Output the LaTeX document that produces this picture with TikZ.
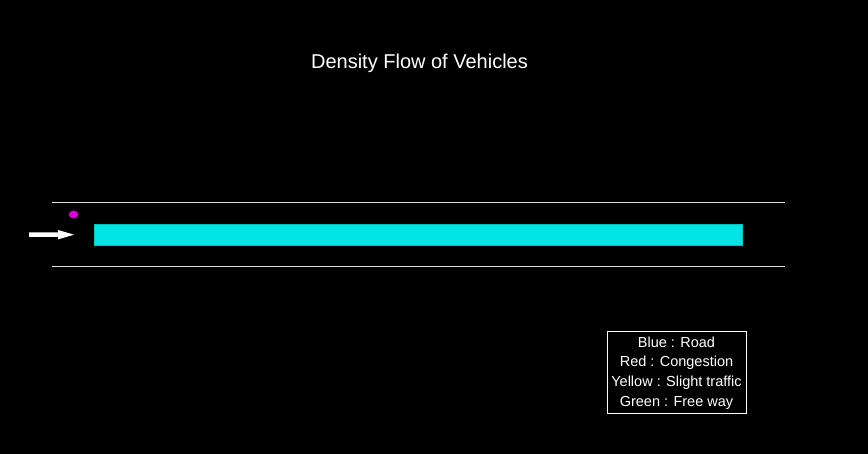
\documentclass[tikz,border=0pt]{standalone}
\usepackage{fontspec}
\setmainfont{Liberation Sans}
\usetikzlibrary{shapes.geometric}
\definecolor{roadcyan}{RGB}{0,228,228}
\definecolor{roadline}{RGB}{225,225,225}
\definecolor{vmag}{RGB}{210,0,210}
\tikzset{
  roadedge/.style={draw=roadline, line width=1.8pt},
  roadbar/.style={fill=roadcyan, draw=roadcyan!85!black, line width=0.6pt, inner sep=0pt, minimum width=648pt, minimum height=21pt},
  legendbox/.style={draw=white, line width=1pt, text=white, font=\fontsize{14.5}{19.6}\selectfont, align=center, inner sep=0pt, minimum width=139pt, minimum height=82pt},
  vehicle/.style={ellipse, fill=vmag, inner sep=0pt, minimum width=9.5pt, minimum height=8pt},
  titletext/.style={text=white, font=\fontsize{20}{24}\selectfont, inner sep=0pt}
}
\begin{document}
\begin{tikzpicture}[x=1pt,y=-1pt]
\fill[black] (0,0) rectangle (868,454);
\useasboundingbox (0,0) rectangle (868,454);
\node[titletext] (title) at (419.5,63.5) {Density Flow of Vehicles};
\coordinate (tl) at (52,202.5);
\coordinate (tr) at (785,202.5);
\coordinate (bl) at (52,266.5);
\coordinate (br) at (785,266.5);
\draw[roadedge] (tl) -- (tr);
\draw[roadedge] (bl) -- (br);
\node[roadbar] (road) at (418,234.5) {};
\node[vehicle] (car) at (73.5,214.5) {};
\fill[white] (29,232.5) -- (58,232.5) -- (58,230) -- (74,234.7) -- (58,239.4) -- (58,237) -- (29,237) -- cycle;
\node[legendbox] (legend) at (676.5,373) {Blue : Road\\Red : Congestion\\Yellow : Slight traffic\\Green : Free way};
\end{tikzpicture}
\end{document}
